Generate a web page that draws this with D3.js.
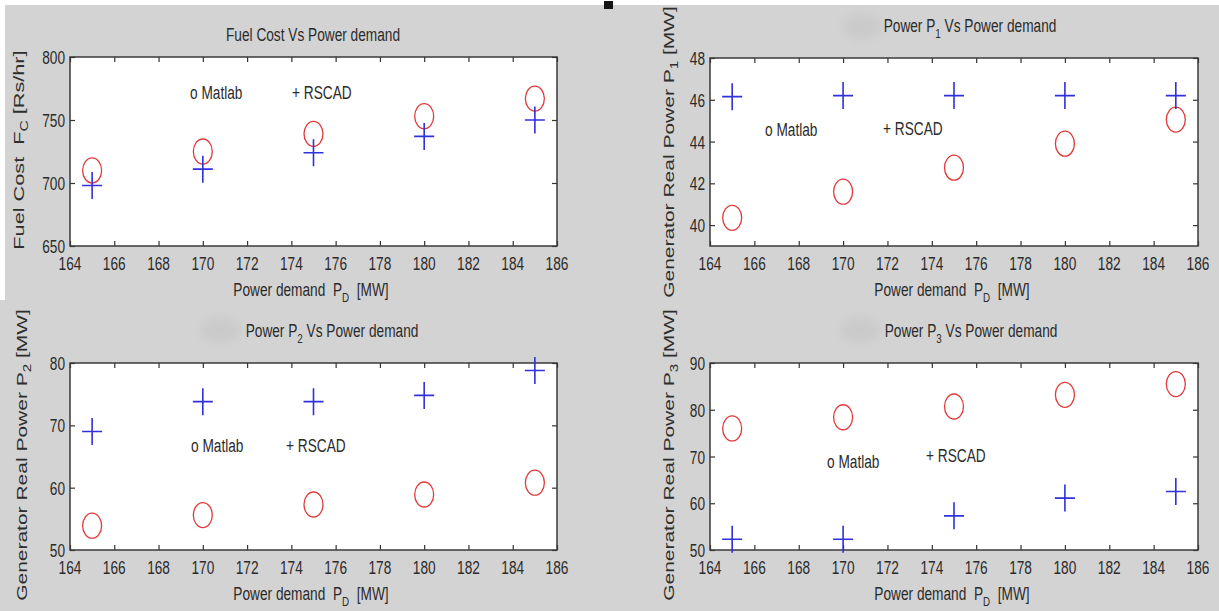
<!DOCTYPE html>
<html>
<head>
<meta charset="utf-8">
<script src="https://cdn.jsdelivr.net/npm/d3@7"></script>
<style>
  body { margin: 0; background: #fff; }
  text { font-family: "Liberation Sans", Arial, Helvetica, sans-serif; white-space: pre; }
</style>
</head>
<body>
<svg id="fig" width="1219" height="611"></svg>
<script>
// Power demand P_D [MW] at which each case was solved
const powerDemand = [165, 170, 175, 180, 185];
const xTicks = [164, 166, 168, 170, 172, 174, 176, 178, 180, 182, 184, 186];

// Fuel cost F_C [Rs/hr]
const fuelMatlab = [710, 725, 739, 753, 767];
const fuelRscad  = [698, 711, 724, 737, 750];
const fuelTicks  = [650, 700, 750, 800];

// Generator 1 real power [MW]
const p1Matlab = [40.35, 41.6, 42.75, 43.9, 45.05];
const p1Rscad  = [46.15, 46.2, 46.2, 46.2, 46.2];
const p1Ticks  = [40, 42, 44, 46, 48];

// Generator 2 real power [MW]
const p2Matlab = [53.9, 55.6, 57.3, 58.9, 60.8];
const p2Rscad  = [69, 73.8, 73.8, 74.8, 78.8];
const p2Ticks  = [50, 60, 70, 80];

// Generator 3 real power [MW]
const p3Matlab = [76.0, 78.4, 80.7, 83.2, 85.5];
const p3Rscad  = [52.3, 52.3, 57.3, 61.1, 62.5];
const p3Ticks  = [50, 60, 70, 80, 90];

const W = 1219, H = 611;
const svg = d3.select("#fig");

// figure background
svg.append("rect").attr("width", W).attr("height", H).attr("fill", "#fff");
svg.append("rect").attr("x", 5).attr("y", 5).attr("width", W - 5).attr("height", H - 5).attr("fill", "#d3d3d3");
svg.append("rect").attr("x", 0).attr("y", 300).attr("width", 6).attr("height", H - 300).attr("fill", "#d3d3d3");

const defs = svg.append("defs");
defs.append("filter").attr("id", "soft").attr("x", "-50%").attr("y", "-50%").attr("width", "200%").attr("height", "200%")
  .append("feGaussianBlur").attr("stdDeviation", 4);

const TXT = "#2b2b2b";
const CONDENSE = 0.72;

// text with optional subscripts: parts = [[string, isSub], ...]
function richText(parent, parts, x, y, o) {
  const t = parent.append("text")
    .attr("transform", `translate(${x},${y}) rotate(${o.rotate || 0}) scale(${o.sx || 1},${o.sy || 1})`)
    .attr("text-anchor", o.anchor || "start")
    .attr("font-size", o.size)
    .attr("fill", o.fill || TXT);
  let shifted = 0;
  parts.forEach(([s, sub]) => {
    const ts = t.append("tspan").text(s);
    if (sub) {
      ts.attr("dy", o.subDy - shifted).attr("font-size", o.size * 0.72);
      shifted = o.subDy;
    } else if (shifted) {
      ts.attr("dy", -shifted);
      shifted = 0;
    }
  });
  return t;
}

const panels = [
  {
    box: { l: 70, t: 57, r: 557, b: 246 }, yDomain: [650, 800], yTicks: fuelTicks,
    matlab: fuelMatlab, rscad: fuelRscad,
    title: [["Fuel Cost Vs Power demand"]], titlePos: [313, 41],
    yLabel: [["Fuel Cost  F"], ["C", true], [" [Rs/hr]"]], yLabelPos: [24, 150], yLabelScale: 1.55,
    xLabelPos: [311, 296],
    legend: { m: [190, 99], r: [292, 99] }, blob: null
  },
  {
    box: { l: 710, t: 58, r: 1198, b: 246 }, yDomain: [39, 48], yTicks: p1Ticks,
    matlab: p1Matlab, rscad: p1Rscad,
    title: [["Power P"], ["1", true], [" Vs Power demand"]], titlePos: [970, 32],
    yLabel: [["Generator Real Power P"], ["1", true], [" [MW]"]], yLabelPos: [674, 152], yLabelScale: 1.5,
    xLabelPos: [952, 296],
    legend: { m: [765, 136], r: [883, 135] }, blob: [862, 27]
  },
  {
    box: { l: 70, t: 363, r: 557, b: 550 }, yDomain: [50, 80], yTicks: p2Ticks,
    matlab: p2Matlab, rscad: p2Rscad,
    title: [["Power P"], ["2", true], [" Vs Power demand"]], titlePos: [332, 337],
    yLabel: [["Generator Real Power P"], ["2", true], [" [MW]"]], yLabelPos: [27, 455], yLabelScale: 1.5,
    xLabelPos: [311, 600],
    legend: { m: [191, 452], r: [286, 452] }, blob: [220, 330]
  },
  {
    box: { l: 710, t: 363, r: 1198, b: 550 }, yDomain: [50, 90], yTicks: p3Ticks,
    matlab: p3Matlab, rscad: p3Rscad,
    title: [["Power P"], ["3", true], [" Vs Power demand"]], titlePos: [971, 337],
    yLabel: [["Generator Real Power P"], ["3", true], [" [MW]"]], yLabelPos: [674, 455], yLabelScale: 1.5,
    xLabelPos: [952, 600],
    legend: { m: [827, 468], r: [926, 462] }, blob: [860, 330]
  }
];

// small dark mark at the top edge
svg.append("rect").attr("x", 604).attr("y", 1).attr("width", 9).attr("height", 8).attr("fill", "#151515");

panels.forEach(p => {
  const g = svg.append("g");
  const { l, t, r, b } = p.box;
  const x = d3.scaleLinear().domain([164, 186]).range([l, r]);
  const y = d3.scaleLinear().domain(p.yDomain).range([b, t]);

  if (p.blob) {
    g.append("ellipse").attr("cx", p.blob[0]).attr("cy", p.blob[1]).attr("rx", 20).attr("ry", 13)
      .attr("fill", "#c4c4c4").attr("opacity", 0.55).attr("filter", "url(#soft)");
  }

  // axes area
  g.append("rect").attr("x", l).attr("y", t).attr("width", r - l).attr("height", b - t).attr("fill", "#fff");

  const tickLen = 5;
  const axB = d3.axisBottom(x).tickValues(xTicks).tickSize(-tickLen).tickFormat("");
  const axT = d3.axisTop(x).tickValues(xTicks).tickSize(-tickLen).tickFormat("");
  const axL = d3.axisLeft(y).tickValues(p.yTicks).tickSize(-tickLen).tickFormat("");
  const axR = d3.axisRight(y).tickValues(p.yTicks).tickSize(-tickLen).tickFormat("");
  [[axB, `translate(0,${b})`], [axT, `translate(0,${t})`], [axL, `translate(${l},0)`], [axR, `translate(${r},0)`]]
    .forEach(([ax, tr]) => {
      const a = g.append("g").attr("transform", tr).call(ax);
      a.select(".domain").remove();
      a.selectAll("line").attr("stroke", "#333").attr("stroke-width", 1.2);
    });
  g.append("rect").attr("x", l).attr("y", t).attr("width", r - l).attr("height", b - t)
    .attr("fill", "none").attr("stroke", "#3a3a3a").attr("stroke-width", 1.5);

  // tick labels
  xTicks.forEach(v => richText(g, [[String(v)]], x(v), b + 24, { size: 19, sx: CONDENSE, anchor: "middle" }));
  p.yTicks.forEach(v => richText(g, [[String(v)]], l - 5, y(v) + 7, { size: 19, sx: CONDENSE, anchor: "end" }));

  // titles and axis labels
  richText(g, p.title, p.titlePos[0], p.titlePos[1], { size: 19, sx: CONDENSE, anchor: "middle", subDy: 6 });
  richText(g, [["Power demand  P"], ["D", true], ["  [MW]"]], p.xLabelPos[0], p.xLabelPos[1],
    { size: 19, sx: CONDENSE, anchor: "middle", subDy: 6 });
  richText(g, p.yLabel, p.yLabelPos[0], p.yLabelPos[1],
    { size: 14, sx: p.yLabelScale, rotate: -90, anchor: "middle", subDy: 4, fill: "#2e2e2e" });

  // in-axes legend notes
  richText(g, [["o Matlab"]], p.legend.m[0], p.legend.m[1], { size: 19, sx: CONDENSE });
  richText(g, [["+ RSCAD"]], p.legend.r[0], p.legend.r[1], { size: 19, sx: CONDENSE });

  // Matlab results: circles
  g.selectAll(".m").data(powerDemand.map((d, i) => [d, p.matlab[i]])).join("ellipse")
    .attr("cx", d => x(d[0])).attr("cy", d => y(d[1]))
    .attr("rx", 9.5).attr("ry", 12.5)
    .attr("fill", "none").attr("stroke", "#e03a3a").attr("stroke-width", 1.3);

  // RSCAD results: plus markers
  const hw = 10, hh = 13.5;
  g.selectAll(".r").data(powerDemand.map((d, i) => [d, p.rscad[i]])).join("path")
    .attr("d", d => {
      const cx = x(d[0]), cy = y(d[1]);
      return `M${cx - hw},${cy}H${cx + hw}M${cx},${cy - hh}V${cy + hh}`;
    })
    .attr("fill", "none").attr("stroke", "#3030dc").attr("stroke-width", 1.6);
});
</script>
</body>
</html>
